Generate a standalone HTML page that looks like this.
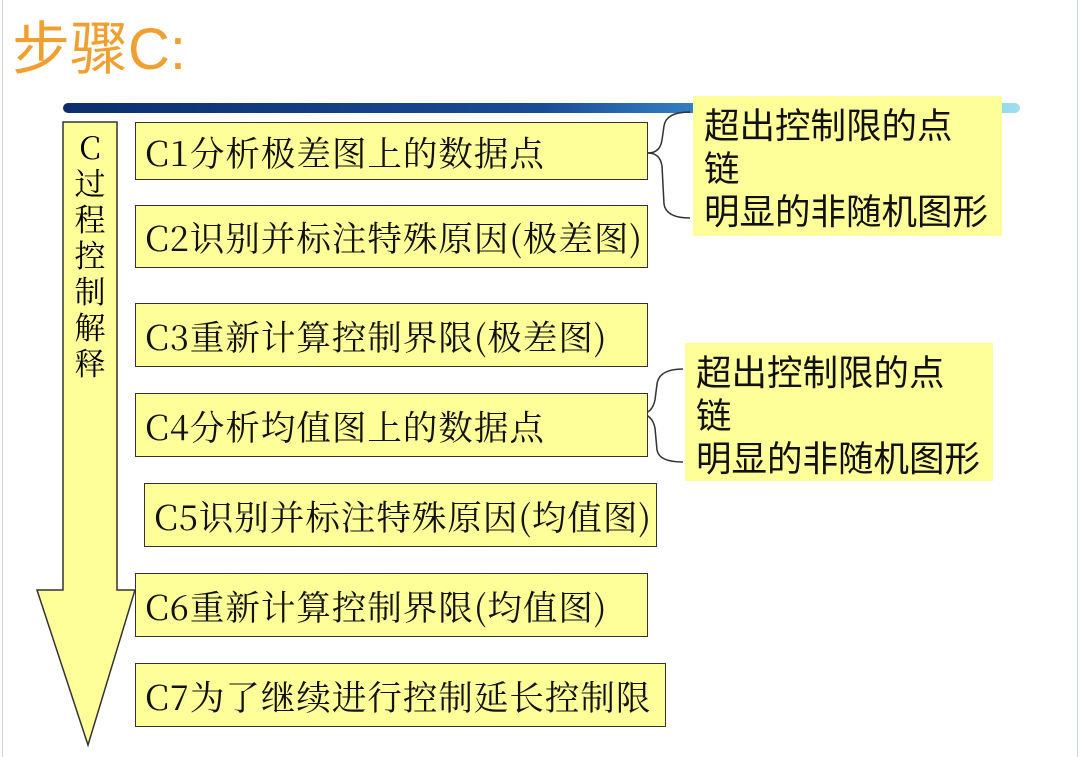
<!DOCTYPE html>
<html><head><meta charset="utf-8"><style>
body{margin:0;width:1080px;height:757px;background:#fff;position:relative;overflow:hidden;font-family:"Noto Serif CJK SC","Liberation Serif",serif}
.b{position:absolute;background:#ffff99;border:1.5px solid #333;box-sizing:border-box;font-size:34.5px;line-height:1;padding-left:9px;display:flex;align-items:center;white-space:nowrap;color:#111;letter-spacing:1px}
.c{position:absolute;background:#ffff99;font-family:"Noto Sans CJK SC","Liberation Sans",sans-serif;font-size:35.5px;line-height:43px;color:#111;padding:6px 0 0 11px;box-sizing:border-box;white-space:nowrap}
</style></head><body>
<div style="position:absolute;left:2px;top:0;width:1px;height:757px;background:#cdd8e4"></div>
<div style="position:absolute;right:2px;top:0;width:1px;height:757px;background:#cdd8e4"></div>
<div style="position:absolute;left:12px;top:2px;font-family:'Liberation Sans','Noto Sans CJK SC',sans-serif;font-size:58px;color:#f0a030;">步骤C:</div>
<div style="position:absolute;left:63px;top:103px;width:957px;height:10px;border-radius:5px;background:linear-gradient(90deg,#0d2e6e 0%,#1a4c94 50%,#3a8ccc 70%,#9ee0f0 100%)"></div>
<svg style="position:absolute;left:0;top:0" width="1080" height="757">
<polygon points="63,122 117,122 117,590 135,590 88,745 37,590 63,590" fill="#ffff99" stroke="#333" stroke-width="1.5"/>
<path d="M627,153 L648,153 Q660,153 662,140 L664,126 Q666,112 690,112" fill="none" stroke="#333" stroke-width="1.5"/>
<path d="M648,153 Q660,153 662,166 L664,204 Q666,218 690,218" fill="none" stroke="#333" stroke-width="1.5"/>
<path d="M627,414 L640,414 Q652,414 655,400 L657,384 Q659,369 683,369" fill="none" stroke="#333" stroke-width="1.5"/>
<path d="M640,414 Q652,414 655,428 L657,450 Q659,462 683,462" fill="none" stroke="#333" stroke-width="1.5"/>
</svg>
<div style="position:absolute;left:63px;top:128px;width:54px;text-align:center;font-size:31px;line-height:36px">C<br>过<br>程<br>控<br>制<br>解<br>释</div>
<div class="b" style="left:135px;top:122px;width:513px;height:58px">C1分析极差图上的数据点</div>
<div class="b" style="left:135px;top:205px;width:513px;height:63px">C2识别并标注特殊原因(极差图)</div>
<div class="b" style="left:135px;top:303px;width:513px;height:64px">C3重新计算控制界限(极差图)</div>
<div class="b" style="left:135px;top:393px;width:513px;height:64px">C4分析均值图上的数据点</div>
<div class="b" style="left:144px;top:483px;width:513px;height:64px">C5识别并标注特殊原因(均值图)</div>
<div class="b" style="left:135px;top:573px;width:513px;height:64px">C6重新计算控制界限(均值图)</div>
<div class="b" style="left:135px;top:663px;width:531px;height:64px">C7为了继续进行控制延长控制限</div>
<div class="c" style="left:693px;top:96px;width:309px;height:140px">超出控制限的点<br>链<br>明显的非随机图形</div>
<div class="c" style="left:685px;top:343px;width:308px;height:138px">超出控制限的点<br>链<br>明显的非随机图形</div>
</body></html>
